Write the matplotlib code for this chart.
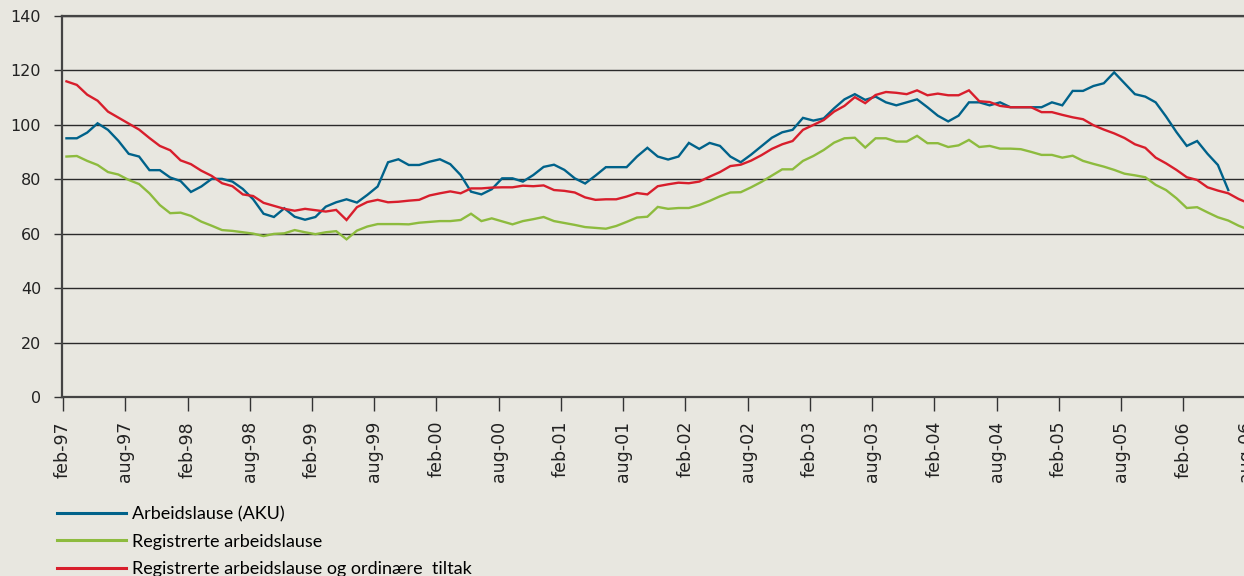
import matplotlib
matplotlib.use("Agg")
import matplotlib.pyplot as plt
import numpy as np

plt.rcParams.update({
    "font.family": ["DejaVu Sans"],
    "xtick.labelsize": 12.5,
    "ytick.labelsize": 11.5,
})

BG = "#e8e7e0"
BLUE = "#00628a"
GREEN = "#8dbb3e"
RED = "#d81e2c"

# monthly index, feb-97 = 0
tick_labels = ["feb-97", "aug-97", "feb-98", "aug-98", "feb-99", "aug-99", "feb-00",
               "aug-00", "feb-01", "aug-01", "feb-02", "aug-02", "feb-03", "aug-03",
               "feb-04", "aug-04", "feb-05", "aug-05", "feb-06", "aug-06"]

aku = [95.1, 95.1, 97.2, 100.6, 98.2, 94.2, 89.4, 88.4, 83.4, 83.4,
       80.7, 79.4, 75.4, 77.4, 80.2, 80.2, 79.2, 76.5, 72.7, 67.4,
       66.2, 69.4, 66.3, 65.2, 66.2, 70.0, 71.6, 72.7, 71.5, 74.3,
       77.4, 86.3, 87.4, 85.3, 85.3, 86.5, 87.4, 85.6, 81.6, 75.5,
       74.5, 76.4, 80.4, 80.4, 79.2, 81.6, 84.6, 85.4, 83.5, 80.4,
       78.5, 81.4, 84.5, 84.5, 84.5, 88.4, 91.6, 88.4, 87.3, 88.4,
       93.4, 91.2, 93.4, 92.3, 88.4, 86.3, 89.1, 92.2, 95.3, 97.3,
       98.2, 102.6, 101.6, 102.4, 106.1, 109.4, 111.3, 109.2, 110.4, 108.3,
       107.2, 108.3, 109.4, 106.5, 103.4, 101.3, 103.4, 108.3, 108.3, 107.2,
       108.3, 106.5, 106.5, 106.5, 106.5, 108.3, 107.2, 112.5, 112.5, 114.3,
       115.3, 119.3, 115.3, 111.3, 110.4, 108.3, 103.1, 97.4, 92.3, 94.1,
       89.4, 85.3, 76.1]

registrerte = [88.4, 88.6, 86.8, 85.3, 82.7, 81.8, 79.8, 78.3, 74.9, 70.6,
               67.6, 67.8, 66.6, 64.5, 63.0, 61.4, 61.1, 60.6, 60.1, 59.2,
               60.0, 60.2, 61.4, 60.6, 59.9, 60.6, 61.0, 58.0, 61.2, 62.7,
               63.6, 63.6, 63.6, 63.5, 64.1, 64.4, 64.7, 64.7, 65.1, 67.4,
               64.7, 65.7, 64.6, 63.5, 64.7, 65.4, 66.2, 64.7, 64.0, 63.3,
               62.5, 62.2, 61.9, 62.9, 64.4, 66.0, 66.3, 69.9, 69.2, 69.5,
               69.5, 70.6, 72.1, 73.8, 75.2, 75.3, 77.1, 79.1, 81.4, 83.7,
               83.7, 86.8, 88.6, 90.8, 93.5, 95.1, 95.3, 91.7, 95.1, 95.1,
               93.9, 93.9, 96.0, 93.3, 93.3, 91.9, 92.5, 94.5, 91.9, 92.3,
               91.3, 91.3, 91.1, 90.1, 89.0, 89.0, 88.0, 88.7, 86.8, 85.7,
               84.7, 83.5, 82.1, 81.5, 80.8, 78.0, 76.1, 73.1, 69.5, 69.8,
               67.9, 66.1, 64.9, 63.0, 61.5]

tiltak = [116.0, 114.7, 111.1, 108.9, 104.9, 102.7, 100.5, 98.3, 95.2, 92.3,
          90.7, 87.0, 85.6, 83.2, 81.3, 78.6, 77.5, 74.5, 73.9, 71.4,
          70.3, 69.2, 68.5, 69.2, 68.7, 68.2, 68.8, 65.1, 69.8, 71.7,
          72.5, 71.6, 71.8, 72.2, 72.5, 74.1, 74.9, 75.6, 74.9, 76.7,
          76.7, 77.0, 77.1, 77.1, 77.7, 77.5, 77.8, 76.1, 75.8, 75.2,
          73.4, 72.5, 72.7, 72.7, 73.7, 75.0, 74.5, 77.5, 78.2, 78.8,
          78.6, 79.2, 81.0, 82.7, 84.9, 85.4, 86.9, 88.9, 91.2, 92.9,
          94.1, 98.2, 100.0, 101.8, 104.9, 107.0, 110.2, 108.0, 111.0, 112.1,
          111.8, 111.3, 112.7, 110.9, 111.5, 110.9, 110.9, 112.7, 108.7, 108.4,
          107.0, 106.5, 106.5, 106.5, 104.7, 104.7, 103.7, 102.8, 102.1, 99.9,
          98.3, 96.9, 95.2, 92.9, 91.6, 88.0, 85.9, 83.5, 80.8, 79.8,
          77.1, 75.9, 74.9, 72.8, 71.2]

labels = ["Arbeidslause (AKU)", "Registrerte arbeidslause",
          "Registrerte arbeidslause og ordinære  tiltak"]

fig = plt.figure(figsize=(12.44, 5.76), dpi=100, facecolor=BG)
ax = fig.add_axes([62 / 1244, 178.7 / 576, 1195 / 1244, 381.3 / 576], facecolor=BG)

off = 0.33  # points sit a little right of the month ticks
x_aku = np.arange(len(aku)) + off
x_reg = np.arange(len(registrerte)) + off
x_tilt = np.arange(len(tiltak)) + off

l1, = ax.plot(x_aku, aku, color=BLUE, lw=1.7, solid_joinstyle="miter")
l2, = ax.plot(x_reg, registrerte, color=GREEN, lw=1.7, solid_joinstyle="miter")
l3, = ax.plot(x_tilt, tiltak, color=RED, lw=1.7, solid_joinstyle="miter")

ax.set_xlim(-0.1, 115.1)
ax.set_ylim(0, 140)
ax.set_yticks(np.arange(0, 141, 20))
ax.set_xticks(np.arange(0, 6 * len(tick_labels), 6))
ax.set_xticklabels(tick_labels, rotation=90)

ax.grid(axis="y", color="#2a2a2a", lw=1.0)
ax.set_axisbelow(True)
for s in ["left", "bottom", "top"]:
    ax.spines[s].set_color("#444444")
    ax.spines[s].set_linewidth(1.6)
ax.spines["right"].set_visible(False)
ax.tick_params(axis="x", length=10, width=1, color="#333333", pad=7, labelcolor="#222222")
ax.tick_params(axis="y", length=6, width=1, color="#333333", pad=9, labelcolor="#222222")

leg = fig.legend([l1, l2, l3], labels, loc="upper left",
                 bbox_to_anchor=(57 / 1244, 1 - 506 / 576), frameon=False,
                 borderpad=0, borderaxespad=0, handlelength=3.8, handletextpad=0.35,
                 labelspacing=0.63,
                 prop={"family": ["Lato", "DejaVu Sans"], "size": 13})
for line in leg.get_lines():
    line.set_linewidth(2.2)

fig.savefig("out.png", dpi=100, facecolor=BG)
